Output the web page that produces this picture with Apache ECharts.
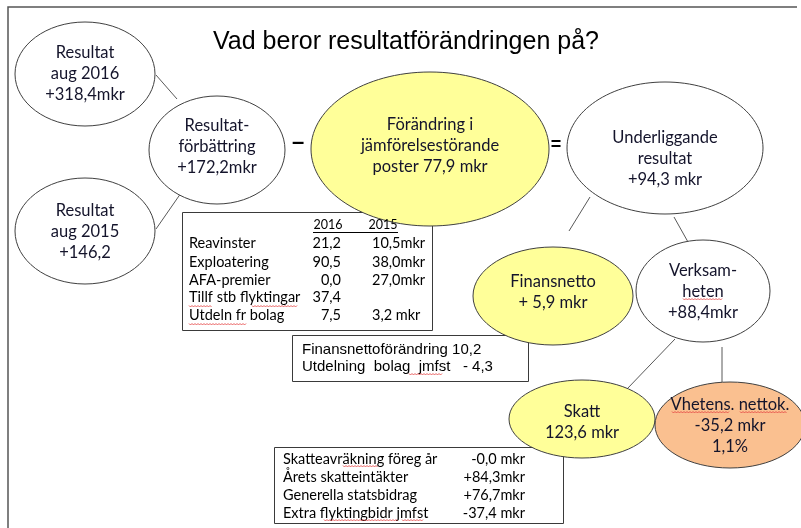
<!DOCTYPE html>
<html>
<head>
<meta charset="utf-8">
<script src="https://cdn.jsdelivr.net/npm/echarts@6/dist/echarts.min.js"></script>
<style>html,body{margin:0;padding:0;background:#fff}#c{width:801px;height:528px}</style>
</head>
<body>
<div id="c"></div>
<script>
// ---- data (texts and values) ----
const title = 'Vad beror resultatförändringen på?';
const nodeNames = ['Resultat\naug 2016', 'Resultat-\nförbättring', 'Resultat\naug 2015', 'Förändring i\njämförelsestörande\nposter', 'Underliggande\nresultat', 'Finansnetto', 'Verksam-\nheten', 'Skatt', 'Vhetens. nettok.'];
const nodeValues = ['+318,4mkr', '+172,2mkr', '+146,2', '77,9 mkr', '+94,3 mkr', '+ 5,9 mkr', '+88,4mkr', '123,6 mkr', '-35,2 mkr\n1,1%'];
const tableYears = ['2016', '2015'];
const tableItems = ['Reavinster', 'Exploatering', 'AFA-premier', 'Tillf stb flyktingar', 'Utdeln fr bolag'];
const values2016 = ['21,2', '90,5', '0,0', '37,4', '7,5'];
const values2015 = ['10,5mkr', '38,0mkr', '27,0mkr', '', '3,2 mkr'];
const finLines = ['Finansnettoförändring 10,2', 'Utdelning  bolag  jmfst   - 4,3'];
const taxItems = ['Skatteavräkning föreg år', 'Årets skatteintäkter', 'Generella statsbidrag', 'Extra flyktingbidr jmfst'];
const taxValues = ['-0,0 mkr', '+84,3mkr', '+76,7mkr', '-37,4 mkr'];
const operators = ['–', '='];

// ---- layout ----
const WHITE = '#ffffff', YELLOW = '#ffff99', ORANGE = '#fac090';
const nodeLayout = [
  {cx: 85, cy: 74, rx: 70, ry: 52, fill: WHITE, ty: 74},
  {cx: 217, cy: 150, rx: 68, ry: 54, fill: WHITE, ty: 147},
  {cx: 85, cy: 231, rx: 70, ry: 53, fill: WHITE, ty: 232},
  {cx: 430, cy: 149, rx: 119, ry: 77, fill: YELLOW, ty: 146, inline: true},
  {cx: 665, cy: 148, rx: 98, ry: 66, fill: WHITE, ty: 159},
  {cx: 553, cy: 296, rx: 80, ry: 49, fill: YELLOW, ty: 292},
  {cx: 703, cy: 291, rx: 67, ry: 51, fill: WHITE, ty: 292},
  {cx: 582, cy: 419, rx: 73, ry: 39, fill: YELLOW, ty: 422},
  {cx: 730, cy: 425, rx: 75, ry: 43, fill: ORANGE, ty: 426}
];
const connectors = [
  [156, 75, 177, 99], [181, 193, 156, 229], [590, 197, 569, 231], [674, 217, 688, 242],
  [675, 339, 627, 389], [722, 347, 722, 382]
];
const boxes = [[182, 212, 250, 118], [292, 335, 236, 46], [274, 447, 289, 76]];
// spell-check squiggle marks [x1, x2, y]
const squiggles = [
  [189, 212, 306], [252, 298, 306], [189, 247, 324], [409, 443, 374],
  [683, 723, 299], [672, 730, 412], [740, 787, 412],
  [343, 378, 466], [324, 398, 520], [402, 424, 520]
];

const CAL = 'Lato, "Open Sans", sans-serif';
const ARIAL = '"Liberation Sans", Arial, sans-serif';
const TXT = '#14142b';

const g = [];
// frame
g.push({type: 'polyline', shape: {points: [[8, 528], [8, 7], [797, 7]]}, style: {stroke: '#555', lineWidth: 1.5, fill: null}});
// title
g.push({type: 'text', style: {text: title, x: 406, y: 42, font: '25px ' + ARIAL, fill: '#000', textAlign: 'center', textVerticalAlign: 'middle'}});
// connectors
connectors.forEach(c => g.push({type: 'line', shape: {x1: c[0], y1: c[1], x2: c[2], y2: c[3]}, style: {stroke: '#595959', lineWidth: 1}}));
// boxes
boxes.forEach(b => g.push({type: 'rect', shape: {x: b[0] + 0.5, y: b[1] + 0.5, width: b[2], height: b[3]}, style: {stroke: '#3a3a3a', lineWidth: 1, fill: '#fff'}}));
// ellipses with labels
nodeLayout.forEach((n, i) => {
  g.push({type: 'ellipse', shape: {cx: n.cx, cy: n.cy, rx: n.rx, ry: n.ry}, style: {fill: n.fill, stroke: '#404040', lineWidth: 1}});
  const label = n.inline ? nodeNames[i] + ' ' + nodeValues[i] : nodeNames[i] + '\n' + nodeValues[i];
  g.push({type: 'text', style: {text: label, x: n.cx, y: n.ty, font: '16.5px ' + CAL, fill: TXT, textAlign: 'center', textVerticalAlign: 'middle', lineHeight: 21}});
});
// operators
g.push({type: 'text', style: {text: operators[0], x: 298, y: 143, font: 'bold 22px ' + ARIAL, fill: '#000', textAlign: 'center', textVerticalAlign: 'middle'}});
g.push({type: 'text', style: {text: operators[1], x: 556, y: 145, font: 'bold 18px ' + ARIAL, fill: '#000', textAlign: 'center', textVerticalAlign: 'middle'}});

// table 1
g.push({type: 'text', style: {text: tableYears[0], x: 328, y: 225, font: '12.5px ' + CAL, fill: '#000', textAlign: 'center', textVerticalAlign: 'middle'}});
g.push({type: 'text', style: {text: tableYears[1], x: 383, y: 225, font: '12.5px ' + CAL, fill: '#000', textAlign: 'center', textVerticalAlign: 'middle'}});
g.push({type: 'line', shape: {x1: 313, y1: 232.5, x2: 398, y2: 232.5}, style: {stroke: '#000', lineWidth: 1}});
const rowY1 = [243, 262, 280, 297, 315];
tableItems.forEach((t, i) => {
  g.push({type: 'text', style: {text: t, x: 189, y: rowY1[i], font: '14.5px ' + CAL, fill: '#000', textAlign: 'left', textVerticalAlign: 'middle'}});
  g.push({type: 'text', style: {text: values2016[i], x: 341, y: rowY1[i], font: '14.5px ' + CAL, fill: '#000', textAlign: 'right', textVerticalAlign: 'middle'}});
  if (values2015[i]) g.push({type: 'text', style: {text: values2015[i], x: 372, y: rowY1[i], font: '14.5px ' + CAL, fill: '#000', textAlign: 'left', textVerticalAlign: 'middle'}});
});
// finansnetto box
[350, 367].forEach((y, i) => g.push({type: 'text', style: {text: finLines[i], x: 302, y: y, font: '15px ' + ARIAL, fill: '#000', textAlign: 'left', textVerticalAlign: 'middle'}}));
// tax box
const rowY3 = [459, 477, 495, 513];
taxItems.forEach((t, i) => {
  g.push({type: 'text', style: {text: t, x: 283, y: rowY3[i], font: '14.5px ' + CAL, fill: '#000', textAlign: 'left', textVerticalAlign: 'middle'}});
  g.push({type: 'text', style: {text: taxValues[i], x: 525, y: rowY3[i], font: '14.5px ' + CAL, fill: '#000', textAlign: 'right', textVerticalAlign: 'middle'}});
});
// squiggles
squiggles.forEach(s => {
  const pts = [];
  for (let x = s[0], k = 0; x <= s[1]; x += 1.5, k++) pts.push([x, s[2] + (k % 2 ? 1 : -0.5)]);
  g.push({type: 'polyline', shape: {points: pts}, style: {stroke: '#e23b3b', lineWidth: 0.8, fill: null}});
});

g.forEach((el, i) => { el.z = 1; el.zlevel = 0; el.z2 = i; });

const chart = echarts.init(document.getElementById('c'), null, {renderer: 'canvas'});
chart.setOption({animation: false, backgroundColor: '#fff', graphic: {elements: g}});
</script>
</body>
</html>
